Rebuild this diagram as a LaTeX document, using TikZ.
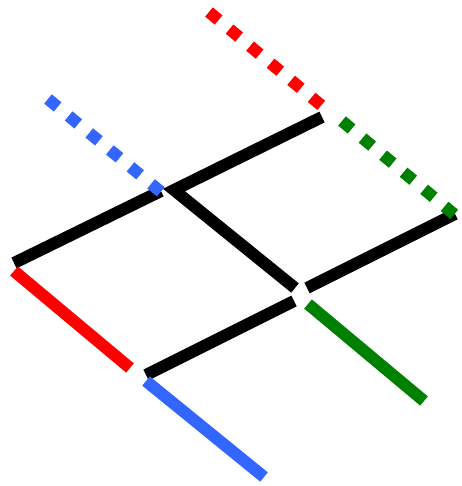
\documentclass[tikz,border=0pt]{standalone}
\definecolor{myred}{RGB}{255,0,0}
\definecolor{myblue}{RGB}{51,102,255}
\definecolor{mygreen}{RGB}{0,128,0}
\tikzset{
  bar/.style={line width=12pt, line cap=butt},
  dotbar/.style={line width=12pt, line cap=butt, dash pattern=on 12.5pt off 14.2pt}
}
\begin{document}
\begin{tikzpicture}[x=1pt,y=-1pt]
\useasboundingbox (0,0) rectangle (461,486);
% black frame
\coordinate (a1) at (14,263);  \coordinate (a2) at (161,191);
\coordinate (b1) at (174,190); \coordinate (b2) at (322,117);
\coordinate (c1) at (177,192); \coordinate (c2) at (295,288);
\coordinate (d1) at (307,288); \coordinate (d2) at (455,214);
\coordinate (e1) at (146,375); \coordinate (e2) at (294,301);
% colored solid
\coordinate (r1) at (14,271);  \coordinate (r2) at (130,368);
\coordinate (u1) at (146,381); \coordinate (u2) at (264,477);
\coordinate (g1) at (308,304); \coordinate (g2) at (424,401);
% colored dashed
\coordinate (rd1) at (209,12);   \coordinate (rd2) at (322,106);
\coordinate (ud1) at (48,99);    \coordinate (ud2) at (161,192);
\coordinate (gd1) at (342,121);  \coordinate (gd2) at (455,215);

\draw[bar] (a1) -- (a2);
\draw[bar] (b2) -- (b1) -- (c2);
\draw[bar] (d1) -- (d2);
\draw[bar] (e1) -- (e2);

\draw[bar, myred] (r1) -- (r2);
\draw[bar, myblue] (u1) -- (u2);
\draw[bar, mygreen] (g1) -- (g2);

\draw[dotbar, myred] (rd1) -- (rd2);
\draw[dotbar, myblue] (ud1) -- (ud2);
\draw[dotbar, mygreen] (gd1) -- (gd2);
\end{tikzpicture}
\end{document}
